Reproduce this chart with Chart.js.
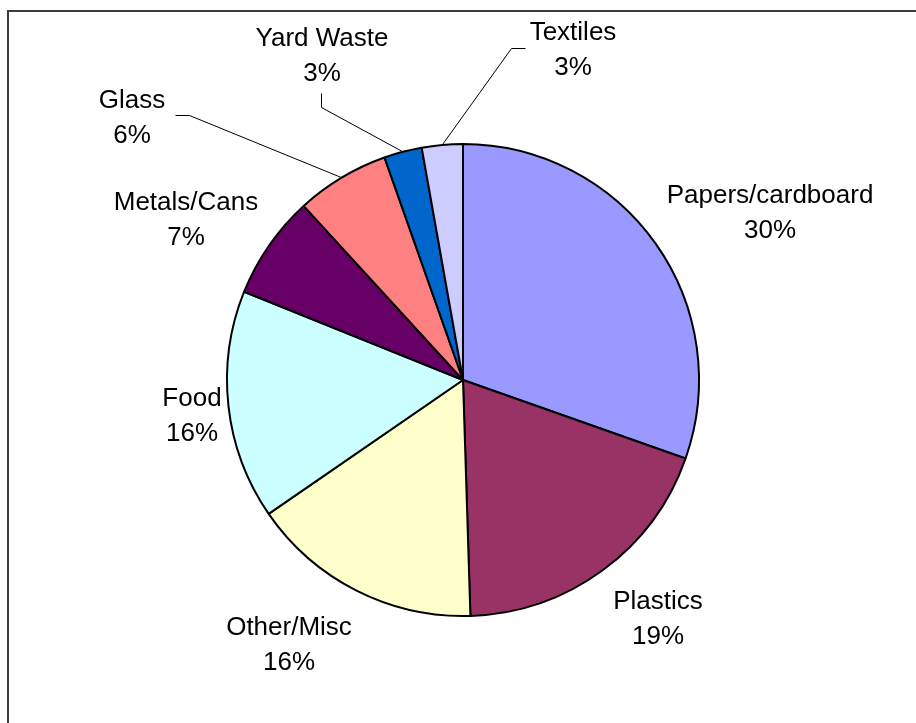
<!DOCTYPE HTML>
<html lang="en">
<head>
  <meta http-equiv="content-type" content="text/html; charset=UTF-8">
  <script src="https://cdn.jsdelivr.net/npm/chart.js@4"></script>
  <style>
    html, body { margin: 0; padding: 0; background: #ffffff; }
    canvas { display: block; }
  </style>
</head>

<body>
  <canvas id="chart_pie" width="916" height="723"></canvas>

  <script>
    // Waste composition, percent of total //

    const categories = ['Papers/cardboard', 'Plastics', 'Other/Misc', 'Food',
                        'Metals/Cans', 'Glass', 'Yard Waste', 'Textiles'];
    const shares = [30.4, 19.1, 15.9, 15.7, 7.1, 6.4, 2.6, 2.8];
    const colors = ['#9999ff', '#993366', '#ffffcc', '#ccffff',
                    '#660066', '#ff8080', '#0066cc', '#ccccff'];

    // label placement, relative to the pie centre: [dx, first baseline dy]
    const labelOffsets = [
        [307, -177], [195, 229], [-174, 255], [-271, 26],
        [-277, -170], [-331, -272], [-141, -334], [110, -340],
    ];
    // leader line elbows (relative to centre), only for the small slices
    const leaders = {
        5: [[-288, -265], [-274, -265]],
        6: [[-142, -287], [-142, -273]],
        7: [[62, -332], [48, -332]],
    };

    const lineGap = 35;
    const font = '26px "Liberation Sans", Arial, sans-serif';

    const sliceLabels = {
        id: 'sliceLabels',
        afterDatasetsDraw(chart) {
            const ctx = chart.ctx;
            const arcs = chart.getDatasetMeta(0).data;
            const values = chart.data.datasets[0].data;
            const total = values.reduce((a, b) => a + b, 0);
            ctx.save();

            // leader lines from label to the middle of the slice edge
            ctx.strokeStyle = '#000000';
            ctx.lineWidth = 1;
            for (const [i, pts] of Object.entries(leaders)) {
                const arc = arcs[i];
                const mid = (arc.startAngle + arc.endAngle) / 2;
                ctx.beginPath();
                ctx.moveTo(arc.x + pts[0][0] + 0.5, arc.y + pts[0][1] + 0.5);
                ctx.lineTo(arc.x + pts[1][0] + 0.5, arc.y + pts[1][1] + 0.5);
                ctx.lineTo(arc.x + Math.cos(mid) * arc.outerRadius,
                           arc.y + Math.sin(mid) * arc.outerRadius);
                ctx.stroke();
            }

            ctx.fillStyle = '#000000';
            ctx.font = font;
            ctx.textAlign = 'center';
            ctx.textBaseline = 'alphabetic';
            arcs.forEach((arc, i) => {
                const [dx, dy] = labelOffsets[i];
                const pct = Math.round(values[i] / total * 100) + '%';
                ctx.fillText(chart.data.labels[i], arc.x + dx, arc.y + dy);
                ctx.fillText(pct, arc.x + dx, arc.y + dy + lineGap);
            });
            ctx.restore();
        }
    };

    // plot area frame (top and left edges show inside the image)
    const frame = {
        id: 'frame',
        beforeDraw(chart) {
            const ctx = chart.ctx;
            ctx.save();
            ctx.strokeStyle = '#3c3c3c';
            ctx.lineWidth = 2;
            ctx.beginPath();
            ctx.moveTo(8, chart.height);
            ctx.lineTo(8, 11);
            ctx.lineTo(chart.width, 11);
            ctx.stroke();
            ctx.restore();
        }
    };

    new Chart(document.getElementById('chart_pie'), {
        type: 'pie',
        data: {
            labels: categories,
            datasets: [{
                data: shares,
                backgroundColor: colors,
                borderColor: '#000000',
                borderWidth: 2,
            }],
        },
        options: {
            responsive: false,
            animation: false,
            layout: { padding: { left: 226, right: 216, top: 143, bottom: 106 } },
            plugins: {
                legend: { display: false },
                tooltip: { enabled: false },
            },
        },
        plugins: [frame, sliceLabels],
    });
  </script>
</body>
</html>
